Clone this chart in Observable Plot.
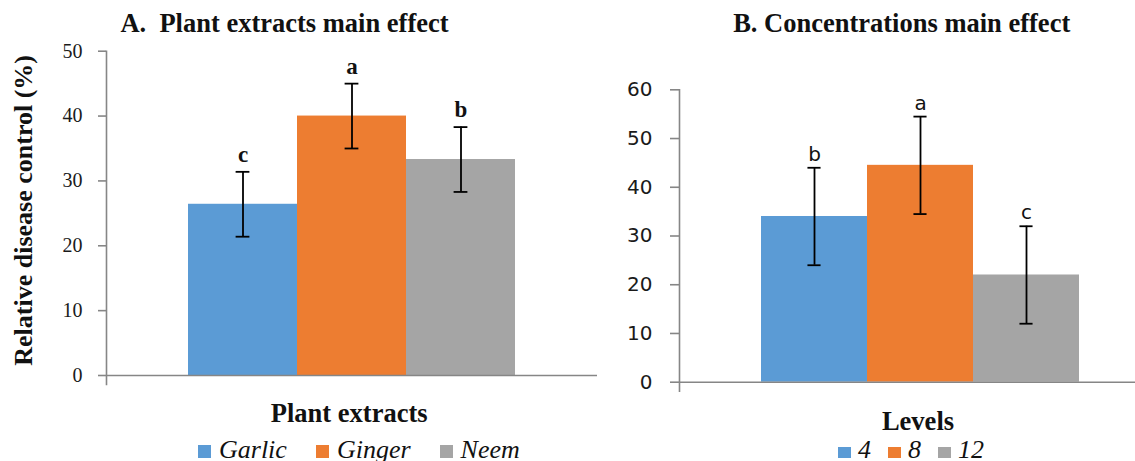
<!DOCTYPE html>
<html>
<head>
<meta charset="utf-8">
<script src="https://cdn.jsdelivr.net/npm/d3@7"></script>
<script src="https://cdn.jsdelivr.net/npm/@observablehq/plot@0.6"></script>
<style>
  html, body { margin: 0; padding: 0; background: #fff; overflow: hidden; }
  #page { position: relative; width: 1135px; height: 461px; overflow: hidden;
          font-family: "Liberation Serif", "Times New Roman", serif; color: #111; }
  .abs { position: absolute; }
  .heading { font-weight: bold; font-size: 26.5px; line-height: 1; white-space: pre; text-align: center; }
  .legend { position: absolute; display: flex; align-items: baseline; line-height: 1;
            font-style: italic; font-size: 26px; white-space: nowrap; }
  .legend .sw { display: inline-block; }
</style>
</head>
<body>
<div id="page"></div>
<script>
// Plant extracts main effect (panel A)
const extracts = ["Garlic", "Ginger", "Neem"];
const extractMeans = [26.4, 40.0, 33.3];
const extractErrors = [5.0, 5.0, 5.0];
const extractLetters = ["c", "a", "b"];
const extractTicks = [0, 10, 20, 30, 40, 50];

// Concentration levels main effect (panel B)
const levels = ["4", "8", "12"];
const levelMeans = [34.0, 44.5, 22.0];
const levelErrors = [10.0, 10.0, 10.0];
const levelLetters = ["b", "a", "c"];
const levelTicks = [0, 10, 20, 30, 40, 50, 60];

const barColors = ["#5B9BD5", "#ED7D31", "#A5A5A5"];
const axisGray = "#868686";
const serif = "'Liberation Serif', 'Times New Roman', serif";
const sans = "'DejaVu Sans', Verdana, sans-serif";

const page = document.getElementById("page");

function panel(o) {
  const rows = o.cats.map((c, i) => ({
    cat: c, mean: o.means[i], lo: o.means[i] - o.errs[i], hi: o.means[i] + o.errs[i], letter: o.letters[i]
  }));
  const innerW = o.width - o.marginLeft - o.marginRight;
  const bw = innerW / (o.cats.length + 2 * o.pad);
  const capInset = (bw - 14) / 2;
  const marks = [
    Plot.barY(rows, {x: "cat", y: "mean", fill: "cat"}),
    Plot.ruleY([0], {stroke: axisGray, strokeWidth: 1.6}),
    Plot.frame({anchor: "left", stroke: axisGray, strokeWidth: 1.6, insetBottom: -9}),
    Plot.axisY({
      ticks: o.ticks, tickSize: o.tickSize, tickPadding: o.tickPadding, label: null,
      stroke: axisGray, strokeWidth: 1.6, fill: "#1a1a1a",
      fontSize: o.tickFontSize, fontFamily: o.tickFont
    }),
    Plot.ruleX(rows, {x: "cat", y1: "lo", y2: "hi", stroke: "#000", strokeWidth: 1.8}),
    Plot.tickY(rows, {x: "cat", y: "hi", insetLeft: capInset, insetRight: capInset, stroke: "#000", strokeWidth: 1.8}),
    Plot.tickY(rows, {x: "cat", y: "lo", insetLeft: capInset, insetRight: capInset, stroke: "#000", strokeWidth: 1.8}),
    Plot.text(rows, {
      x: "cat", y: "hi", text: "letter", lineAnchor: "bottom", dy: o.letterDy,
      fontSize: o.letterSize, fontFamily: o.letterFont, fontWeight: o.letterWeight, fill: "#111"
    })
  ];
  if (o.yLabel) {
    marks.push(Plot.text([o.yLabel], {
      frameAnchor: "left", textAnchor: "middle", rotate: -90, dx: o.yLabelDx, dy: -3, text: d => d,
      fontSize: 26, fontWeight: "bold", fontFamily: serif, fill: "#111"
    }));
  }
  return Plot.plot({
    width: o.width, height: o.height,
    marginLeft: o.marginLeft, marginRight: o.marginRight,
    marginTop: o.marginTop, marginBottom: o.marginBottom,
    style: {background: "transparent", overflow: "visible", fontFamily: serif},
    x: {type: "band", domain: o.cats, paddingInner: 0, paddingOuter: o.pad, axis: null},
    y: {domain: [0, o.yMax], axis: null},
    color: {domain: o.cats, range: barColors},
    marks
  });
}

function place(el, left, top, width) {
  const wrap = document.createElement("div");
  wrap.className = "abs";
  wrap.style.left = left + "px";
  wrap.style.top = top + "px";
  wrap.style.width = width + "px";
  wrap.appendChild(el);
  page.appendChild(wrap);
}

function heading(text, centerX, baseline) {
  const d = document.createElement("div");
  d.className = "abs heading";
  d.textContent = text;
  d.style.left = (centerX - 300) + "px";
  d.style.width = "600px";
  d.style.top = (baseline - 0.8375 * 26.5) + "px";
  page.appendChild(d);
}

function legend(cats, left, baseline, swW, swH, gapText, gapItem) {
  const d = document.createElement("div");
  d.className = "legend";
  d.style.left = left + "px";
  d.style.top = (baseline - 0.8375 * 26) + "px";
  cats.forEach((c, i) => {
    const sw = document.createElement("span");
    sw.className = "sw";
    sw.style.width = swW + "px";
    sw.style.height = swH + "px";
    sw.style.background = barColors[i];
    sw.style.marginRight = gapText + "px";
    const t = document.createElement("span");
    t.textContent = c;
    if (i < cats.length - 1) t.style.marginRight = gapItem + "px";
    d.appendChild(sw);
    d.appendChild(t);
  });
  page.appendChild(d);
}

// Panel A
place(panel({
  cats: extracts, means: extractMeans, errs: extractErrors, letters: extractLetters,
  ticks: extractTicks, yMax: 50,
  width: 600, height: 400, marginLeft: 106, marginRight: 3, marginTop: 50.7, marginBottom: 25,
  pad: 0.748, tickSize: 8, tickPadding: 16, tickFontSize: 20, tickFont: serif,
  letterSize: 23, letterFont: serif, letterWeight: "bold", letterDy: -10,
  yLabel: "Relative disease control (%)", yLabelDx: -83
}), 0, 0, 600);

// Panel B
place(panel({
  cats: levels, means: levelMeans, errs: levelErrors, letters: levelLetters,
  ticks: levelTicks, yMax: 60,
  width: 560, height: 400, marginLeft: 79, marginRight: 0, marginTop: 89.3, marginBottom: 18.3,
  pad: 0.75, tickSize: 9, tickPadding: 18, tickFontSize: 20, tickFont: sans,
  letterSize: 20, letterFont: sans, letterWeight: "normal", letterDy: -7
}), 600, 0, 560);

heading("A.  Plant extracts main effect", 284.5, 31.7);
heading("B. Concentrations main effect", 901.7, 31.7);
heading("Plant extracts", 349.2, 422.3);
heading("Levels", 918, 430);

legend(extracts, 198, 459, 13, 13, 8, 29);
legend(levels, 838, 459, 13, 11, 7, 17);
</script>
</body>
</html>
